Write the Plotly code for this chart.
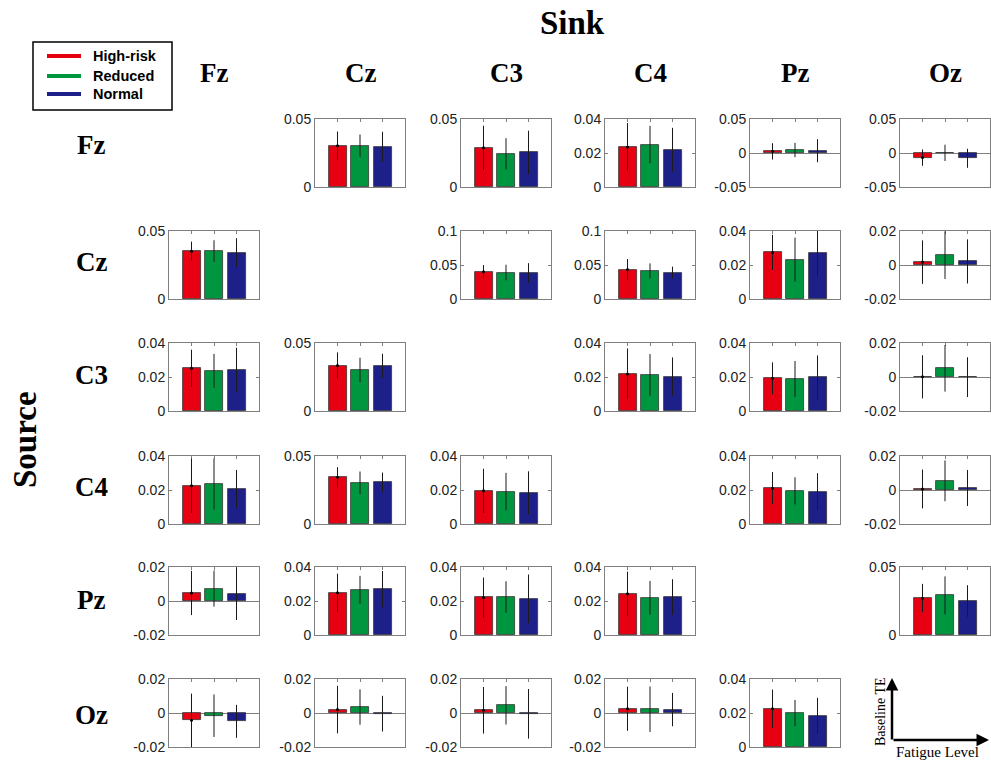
import plotly.graph_objects as go

channels = ["Fz", "Cz", "C3", "C4", "Pz", "Oz"]
groups = ["High-risk", "Reduced", "Normal"]
colors = ["#E60012", "#00963F", "#1D2088"]

# rows = source, columns = sink (None on the diagonal)
high_risk_mean = [
    [None, 0.0303, 0.0288, 0.0236, 0.0024, -0.0068],
    [0.0352, None, 0.0399, 0.0433, 0.0274, 0.0017],
    [0.0251, 0.0334, None, 0.0218, 0.0192, 0.0001],
    [0.0225, 0.0343, 0.0195, None, 0.0211, 0.0006],
    [0.0047, 0.0248, 0.0221, 0.0242, None, 0.0271],
    [-0.0043, 0.0020, 0.0016, 0.0025, 0.0225, None],
]
high_risk_err = [
    [None, 0.0105, 0.0163, 0.0140, 0.0120, 0.0120],
    [0.0070, None, 0.0100, 0.0155, 0.0104, 0.0128],
    [0.0110, 0.0097, None, 0.0150, 0.0094, 0.0127],
    [0.0160, 0.0075, 0.0130, None, 0.0095, 0.0114],
    [0.0130, 0.0113, 0.0117, 0.0131, None, 0.0105],
    [0.0157, 0.0140, 0.0137, 0.0130, 0.0113, None],
]
reduced_mean = [
    [None, 0.0303, 0.0244, 0.0250, 0.0044, 0.0002],
    [0.0352, None, 0.0389, 0.0414, 0.0232, 0.0058],
    [0.0236, 0.0302, None, 0.0212, 0.0188, 0.0051],
    [0.0235, 0.0303, 0.0191, None, 0.0195, 0.0054],
    [0.0073, 0.0266, 0.0223, 0.0219, None, 0.0291],
    [-0.0016, 0.0035, 0.0045, 0.0022, 0.0200, None],
]
reduced_err = [
    [None, 0.0083, 0.0115, 0.0110, 0.0105, 0.0120],
    [0.0080, None, 0.0115, 0.0110, 0.0129, 0.0140],
    [0.0100, 0.0090, None, 0.0123, 0.0106, 0.0137],
    [0.0150, 0.0083, 0.0110, None, 0.0080, 0.0120],
    [0.0106, 0.0082, 0.0093, 0.0099, None, 0.0140],
    [0.0125, 0.0104, 0.0113, 0.0134, 0.0077, None],
]
normal_mean = [
    [None, 0.0296, 0.0254, 0.0218, 0.0034, -0.0078],
    [0.0340, None, 0.0384, 0.0389, 0.0268, 0.0021],
    [0.0242, 0.0332, None, 0.0202, 0.0198, -0.0001],
    [0.0205, 0.0306, 0.0183, None, 0.0191, 0.0012],
    [0.0043, 0.0270, 0.0213, 0.0223, None, 0.0249],
    [-0.0049, -0.0004, -0.0005, 0.0020, 0.0184, None],
]
normal_err = [
    [None, 0.0110, 0.0160, 0.0130, 0.0170, 0.0140],
    [0.0107, None, 0.0143, 0.0087, 0.0135, 0.0130],
    [0.0130, 0.0089, None, 0.0113, 0.0129, 0.0117],
    [0.0113, 0.0072, 0.0127, None, 0.0108, 0.0106],
    [0.0155, 0.0107, 0.0143, 0.0105, None, 0.0117],
    [0.0097, 0.0105, 0.0146, 0.0098, 0.0105, None],
]
y_limits = [
    [None, (0, 0.05), (0, 0.05), (0, 0.04), (-0.05, 0.05), (-0.05, 0.05)],
    [(0, 0.05), None, (0, 0.1), (0, 0.1), (0, 0.04), (-0.02, 0.02)],
    [(0, 0.04), (0, 0.05), None, (0, 0.04), (0, 0.04), (-0.02, 0.02)],
    [(0, 0.04), (0, 0.05), (0, 0.04), None, (0, 0.04), (-0.02, 0.02)],
    [(-0.02, 0.02), (0, 0.04), (0, 0.04), (0, 0.04), None, (0, 0.05)],
    [(-0.02, 0.02), (-0.02, 0.02), (-0.02, 0.02), (-0.02, 0.02), (0, 0.04), None],
]

W, H = 991, 762
col_left = [169, 315, 461, 605, 750, 900]
row_top = [119, 231, 343, 456, 567, 679]
PW, PH = 90, 68
AXC = "#7f7f7f"
TICKFONT = dict(family="Liberation Sans, Arial", size=14, color="#222222")
SERIF = "Liberation Serif, Times New Roman, serif"


def px(x):
    return x / W


def py(y):
    return 1 - y / H


fig = go.Figure()
layout_axes = {}
n = 0
for i in range(6):
    for j in range(6):
        if i == j:
            continue
        n += 1
        xa = "x" if n == 1 else f"x{n}"
        ya = "y" if n == 1 else f"y{n}"
        means = [high_risk_mean[i][j], reduced_mean[i][j], normal_mean[i][j]]
        errs = [high_risk_err[i][j], reduced_err[i][j], normal_err[i][j]]
        fig.add_trace(go.Bar(
            x=[1, 2, 3], y=means, width=0.8,
            marker=dict(color=colors, line=dict(color="#333333", width=0.8)),
            error_y=dict(type="data", array=errs, visible=True,
                         color="#1a1a1a", thickness=1, width=0),
            xaxis=xa, yaxis=ya, showlegend=False,
            hovertext=groups, name=f"{channels[i]}→{channels[j]}",
        ))
        fig.add_trace(go.Scatter(
            x=[1], y=[means[0]], mode="markers",
            marker=dict(color="black", size=3),
            xaxis=xa, yaxis=ya, showlegend=False, hoverinfo="skip",
        ))
        lo, hi = y_limits[i][j]
        if lo < 0:
            tv = [lo, 0, hi]
        elif hi == 0.05:
            tv = [0, hi]
        else:
            tv = [0, hi / 2, hi]
        layout_axes["xaxis" if n == 1 else f"xaxis{n}"] = dict(
            domain=[px(col_left[j]), px(col_left[j] + PW)],
            range=[0, 4], anchor=ya, side="top",
            tickvals=[1, 2, 3], ticks="inside", ticklen=3, tickcolor=AXC,
            showticklabels=False, showline=True, mirror=True,
            linecolor=AXC, linewidth=1, showgrid=False, zeroline=False,
            fixedrange=True, layer="below traces", automargin=False,
        )
        layout_axes["yaxis" if n == 1 else f"yaxis{n}"] = dict(
            domain=[py(row_top[i] + PH), py(row_top[i])],
            range=[lo, hi], anchor=xa,
            tickvals=tv, ticktext=[f"{v:g}" for v in tv],
            ticks="inside", ticklen=3, tickcolor=AXC, tickfont=TICKFONT,
            showline=True, mirror="ticks", linecolor=AXC, linewidth=1,
            showgrid=False, zeroline=lo < 0, zerolinecolor=AXC,
            zerolinewidth=1, fixedrange=True, layer="below traces",
            automargin=False,
        )

annotations = []
shapes = []

# column (sink) and row (source) headers
for j, ch in enumerate(channels):
    annotations.append(dict(
        text=f"<b>{ch}</b>", x=px(col_left[j] + PW / 2), y=py(73),
        xref="paper", yref="paper", showarrow=False,
        font=dict(family=SERIF, size=27, color="black"),
        xanchor="center", yanchor="middle"))
row_label_y = [145, 262, 375, 487, 600, 715]
for i, ch in enumerate(channels):
    annotations.append(dict(
        text=f"<b>{ch}</b>", x=px(91), y=py(row_label_y[i]),
        xref="paper", yref="paper", showarrow=False,
        font=dict(family=SERIF, size=27, color="black"),
        xanchor="center", yanchor="middle"))
annotations.append(dict(
    text="<b>Sink</b>", x=px(572), y=py(23), xref="paper", yref="paper",
    showarrow=False, font=dict(family=SERIF, size=33, color="black"),
    xanchor="center", yanchor="middle"))
annotations.append(dict(
    text="<b>Source</b>", x=px(25), y=py(440), xref="paper", yref="paper",
    showarrow=False, textangle=-90,
    font=dict(family=SERIF, size=33, color="black"),
    xanchor="center", yanchor="middle"))

# legend box (top-left)
shapes.append(dict(type="rect", xref="paper", yref="paper",
                   x0=px(33), x1=px(172), y0=py(110), y1=py(42),
                   line=dict(color="black", width=1.5),
                   fillcolor="white", layer="above"))
legend_y = [56, 76, 94]
for g, c, ly in zip(groups, colors, legend_y):
    shapes.append(dict(type="line", xref="paper", yref="paper",
                       x0=px(47), x1=px(81), y0=py(ly), y1=py(ly),
                       line=dict(color=c, width=4), layer="above"))
    annotations.append(dict(
        text=f"<b>{g}</b>", x=px(91), y=py(ly), xref="paper", yref="paper",
        showarrow=False, xanchor="left", yanchor="middle",
        font=dict(family="Liberation Sans, Arial", size=14.5, color="black")))

# schematic axes (bottom-right)
annotations.append(dict(
    text="", x=px(989), y=py(740), xref="paper", yref="paper",
    ax=-97, ay=0, axref="pixel", ayref="pixel", showarrow=True,
    arrowhead=2, arrowsize=1, arrowwidth=2.5, arrowcolor="black"))
annotations.append(dict(
    text="", x=px(892), y=py(678), xref="paper", yref="paper",
    ax=0, ay=63, axref="pixel", ayref="pixel", showarrow=True,
    arrowhead=2, arrowsize=1, arrowwidth=2.5, arrowcolor="black"))
annotations.append(dict(
    text="Baseline TE", x=px(880), y=py(712), xref="paper", yref="paper",
    showarrow=False, textangle=-90,
    font=dict(family=SERIF, size=14, color="black"),
    xanchor="center", yanchor="middle"))
annotations.append(dict(
    text="Fatigue Level", x=px(937), y=py(752), xref="paper", yref="paper",
    showarrow=False, font=dict(family=SERIF, size=15, color="black"),
    xanchor="center", yanchor="middle"))

fig.update_layout(
    width=W, height=H,
    margin=dict(l=0, r=0, t=0, b=0, pad=0, autoexpand=False),
    paper_bgcolor="white", plot_bgcolor="white",
    bargap=0, showlegend=False,
    annotations=annotations, shapes=shapes,
    **layout_axes,
)

fig.write_html("out.html")
